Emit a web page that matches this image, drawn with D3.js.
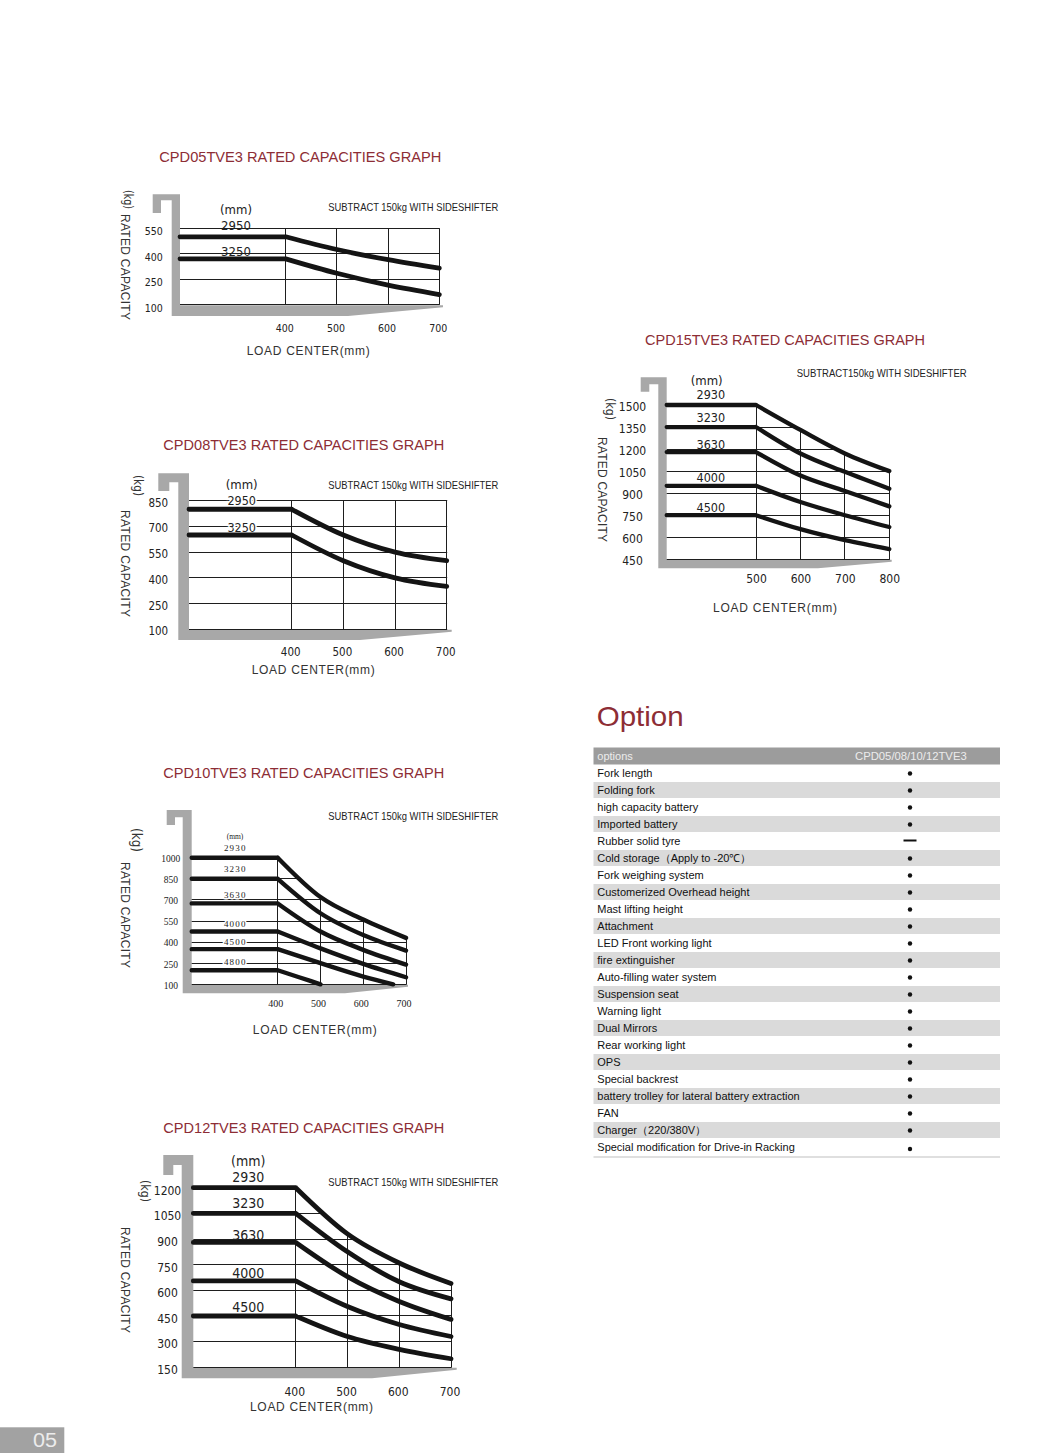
<!DOCTYPE html>
<html><head><meta charset="utf-8">
<script src="https://cdn.jsdelivr.net/npm/d3@7"></script>
<style>
html,body{margin:0;padding:0;background:#fff;}
svg{display:block;}
</style></head><body>
<script>
// ================= DATA =================
const chartTitles = ["CPD05TVE3 RATED CAPACITIES GRAPH","CPD08TVE3 RATED CAPACITIES GRAPH","CPD10TVE3 RATED CAPACITIES GRAPH","CPD12TVE3 RATED CAPACITIES GRAPH","CPD15TVE3 RATED CAPACITIES GRAPH"];
const noteText = "SUBTRACT 150kg WITH SIDESHIFTER";
const noteTextCompact = "SUBTRACT150kg WITH SIDESHIFTER";
const yAxisTitle = "RATED CAPACITY";
const yUnit = "(kg)";
const xAxisTitle = "LOAD CENTER(mm)";
const mastUnit = "(mm)";

// CPD05TVE3
const cpd05LoadTicks = [400,500,600,700];
const cpd05CapTicks = [100,250,400,550];
const cpd05Masts = ["2950","3250"];
const cpd05Curve2950 = [[400,500],[500,425],[600,365],[700,315]];
const cpd05Curve3250 = [[400,370],[500,285],[600,215],[700,160]];

// CPD08TVE3
const cpd08LoadTicks = [400,500,600,700];
const cpd08CapTicks = [100,250,400,550,700,850];
const cpd08Masts = ["2950","3250"];
const cpd08Curve2950 = [[400,800],[500,650],[600,550],[700,500]];
const cpd08Curve3250 = [[400,650],[500,500],[600,400],[700,350]];

// CPD10TVE3
const cpd10LoadTicks = [400,500,600,700];
const cpd10CapTicks = [100,250,400,550,700,850,1000];
const cpd10Masts = ["2930","3230","3630","4000","4500","4800"];
const cpd10Curve2930 = [[400,1000],[500,720],[600,560],[700,430]];
const cpd10Curve3230 = [[400,850],[500,605],[600,450],[700,340]];
const cpd10Curve3630 = [[400,675],[500,475],[600,345],[700,240]];
const cpd10Curve4000 = [[400,475],[500,355],[600,245],[700,150]];
const cpd10Curve4500 = [[400,350],[500,250],[600,155],[670,100]];
const cpd10Curve4800 = [[400,200],[450,150],[500,100]];

// CPD12TVE3
const cpd12LoadTicks = [400,500,600,700];
const cpd12CapTicks = [150,300,450,600,750,900,1050,1200];
const cpd12Masts = ["2930","3230","3630","4000","4500"];
const cpd12Curve2930 = [[400,1200],[500,930],[600,760],[700,640]];
const cpd12Curve3230 = [[400,1050],[500,825],[600,650],[700,550]];
const cpd12Curve3630 = [[400,880],[500,680],[600,535],[700,430]];
const cpd12Curve4000 = [[400,655],[500,505],[600,400],[700,330]];
const cpd12Curve4500 = [[400,450],[500,330],[600,255],[700,200]];

// CPD15TVE3
const cpd15LoadTicks = [500,600,700,800];
const cpd15CapTicks = [450,600,750,900,1050,1200,1350,1500];
const cpd15Masts = ["2930","3230","3630","4000","4500"];
const cpd15Curve2930 = [[500,1500],[600,1330],[700,1170],[800,1050]];
const cpd15Curve3230 = [[500,1350],[600,1170],[700,1045],[800,930]];
const cpd15Curve3630 = [[500,1180],[600,1020],[700,915],[800,810]];
const cpd15Curve4000 = [[500,950],[600,840],[700,750],[800,670]];
const cpd15Curve4500 = [[500,750],[600,655],[700,580],[800,520]];

// Option table
const optionTitle = "Option";
const optionHeader = ["options","CPD05/08/10/12TVE3"];
const optionNames = ["Fork length","Folding fork","high capacity battery","Imported battery","Rubber solid tyre","Cold storage\uFF08Apply to -20\u2103\uFF09","Fork weighing system","Customerized Overhead height","Mast lifting height","Attachment","LED Front working light","fire extinguisher","Auto-filling water system","Suspension seat","Warning light","Dual Mirrors","Rear working light","OPS","Special backrest","battery trolley for lateral battery extraction","FAN","Charger\uFF08220/380V\uFF09","Special modification for Drive-in Racking"];
const optionMarks = ["dot","dot","dot","dot","dash","dot","dot","dot","dot","dot","dot","dot","dot","dot","dot","dot","dot","dot","dot","dot","dot","dot","dot"];
const pageNumber = "05";

// ================= LAYOUT / STYLE =================
const SANS = "'Liberation Sans', Arial, sans-serif";
const NARROW = "'Liberation Sans Narrow','Arial Narrow','DejaVu Sans Condensed','Liberation Sans',sans-serif";
const SERIF = "'Liberation Serif','Times New Roman',serif";
const TITLE_RED = "#8d2d35";

const svg = d3.select("body").append("svg").attr("width",1060).attr("height",1453);
const defs = svg.append("defs");

const charts = [
 { id:"c05", title:chartTitles[0], loads:cpd05LoadTicks, caps:cpd05CapTicks, masts:cpd05Masts,
   series:[cpd05Curve2950,cpd05Curve3250],
   L:{gx:180, x0:285.7, x1:439.3, yb:304.7, yt:228.3, clip:false, sw:4.8, halo:false,
      frame:{bw:8.3,hx:19,top:194.3,topH:6,stubW:8.3,stubB:213,barB:316,right:443,taper:348},
      title:{x:159.3,y:161.5,w:282}, note:{x:328.3,y:211,w:170,text:noteText},
      ytick:{x:153.8,dy:3,size:10.5,font:NARROW}, xtick:{y:332,size:10.5,font:NARROW,dx:-1.5},
      xlab:{x:246.7,y:355,w:123}, ylab:{cx:125,y:214,w:106}, kg:{cx:128,y:190,w:19,size:12},
      mm:{x:236,y:214,size:13}, mast:{x:236,ys:[230,256],size:13,font:NARROW,ls:0}} },
 { id:"c08", title:chartTitles[1], loads:cpd08LoadTicks, caps:cpd08CapTicks, masts:cpd08Masts,
   series:[cpd08Curve2950,cpd08Curve3250],
   L:{gx:189, x0:291.7, x1:446.7, yb:629.3, yt:500.7, clip:false, sw:4.8, halo:true,
      frame:{bw:10.7,hx:20,top:473.3,topH:9,stubW:11,stubB:491,barB:640,right:451.7,taper:360},
      title:{x:163.3,y:450,w:281}, note:{x:328.3,y:489,w:170,text:noteText},
      ytick:{x:158.3,dy:1.8,size:11.5,font:NARROW}, xtick:{y:656,size:11.5,font:NARROW,dx:-1.5},
      xlab:{x:251.7,y:674,w:123}, ylab:{cx:125,y:510,w:107}, kg:{cx:138,y:475,w:21,size:12},
      mm:{x:241.7,y:489,size:13}, mast:{x:241.7,ys:[505,531.5],size:12.5,font:NARROW,ls:0}} },
 { id:"c10", title:chartTitles[2], loads:cpd10LoadTicks, caps:cpd10CapTicks, masts:cpd10Masts,
   series:[cpd10Curve2930,cpd10Curve3230,cpd10Curve3630,cpd10Curve4000,cpd10Curve4500,cpd10Curve4800],
   L:{gx:191.7, x0:277.7, x1:406, yb:984.3, yt:857.7, clip:true, sw:4.4, halo:true,
      frame:{bw:9,hx:16,top:810,topH:7.3,stubW:8.3,stubB:825,barB:993.3,right:408,taper:345},
      title:{x:163.3,y:778,w:281}, note:{x:328.3,y:820,w:170,text:noteText},
      ytick:{x:170.8,dy:0.8,size:9.5,font:SERIF}, xtick:{y:1007,size:10,font:SERIF,dx:-2.5},
      xlab:{x:252.7,y:1034,w:124}, ylab:{cx:125,y:862,w:106}, kg:{cx:137,y:828,w:24,size:13.5},
      mm:{x:235,y:838.5,size:7.5,font:SERIF}, mast:{x:235.3,ys:[851,872.3,897.7,926.7,945,965],size:9,font:SERIF,ls:1.2}} },
 { id:"c12", title:chartTitles[3], loads:cpd12LoadTicks, caps:cpd12CapTicks, masts:cpd12Masts,
   series:[cpd12Curve2930,cpd12Curve3230,cpd12Curve3630,cpd12Curve4000,cpd12Curve4500],
   L:{gx:193.3, x0:295.7, x1:451, yb:1367.3, yt:1187.7, clip:true, sw:4.8, halo:false,
      frame:{bw:11.6,hx:18.4,top:1155,topH:10,stubW:10,stubB:1175,barB:1378.3,right:456.7,taper:372},
      title:{x:163.3,y:1133,w:281}, note:{x:328.3,y:1185.5,w:170,text:noteText},
      ytick:{x:167.5,dy:2.5,size:12,font:NARROW}, xtick:{y:1396,size:12,font:NARROW,dx:-1.5},
      xlab:{x:250,y:1411,w:123}, ylab:{cx:125,y:1227,w:106}, kg:{cx:145,y:1180,w:22,size:12.5},
      mm:{x:248.3,y:1166,size:14}, mast:{x:248.3,ys:[1181.5,1208,1240,1278,1311.7],size:14,font:NARROW,ls:0}} },
 { id:"c15", title:chartTitles[4], loads:cpd15LoadTicks, caps:cpd15CapTicks, masts:cpd15Masts,
   series:[cpd15Curve2930,cpd15Curve3230,cpd15Curve3630,cpd15Curve4000,cpd15Curve4500],
   L:{gx:666.7, x0:756, x1:889.3, yb:559.3, yt:405, clip:true, sw:4.3, halo:false,
      frame:{bw:8.4,hx:17.6,top:377.3,topH:7,stubW:8.6,stubB:391.7,barB:568.3,right:891.7,taper:818},
      title:{x:645,y:344.5,w:280}, note:{x:796.7,y:376.5,w:170,text:noteTextCompact},
      ytick:{x:632.5,dy:1.7,size:12,font:NARROW}, xtick:{y:583,size:12,font:NARROW,dx:0},
      xlab:{x:713,y:612,w:124}, ylab:{cx:602,y:437,w:105}, kg:{cx:610,y:398,w:22,size:12.5},
      mm:{x:706.7,y:385,size:13}, mast:{x:710.8,ys:[399,421.7,449,482.3,512.3],size:12.5,font:NARROW,ls:0}} }
];

function crisp(v){ return Math.round(v - 0.5) + 0.5; }
const intFmt = d3.format("d");

function drawChart(C) {
  const L = C.L;
  const g = svg.append("g").attr("class", C.id);
  const xs = C.loads, ys = C.caps;
  const x = d3.scaleLinear().domain([0, xs[0], xs[xs.length-1]]).range([L.gx, L.x0, L.x1]);
  const y = d3.scaleLinear().domain([ys[0], ys[ys.length-1]]).range([L.yb, L.yt]);

  // title
  g.append("text").attr("x",L.title.x).attr("y",L.title.y).attr("textLength",L.title.w)
    .attr("lengthAdjust","spacingAndGlyphs")
    .attr("font-family",SANS).attr("font-size",14.5).attr("fill",TITLE_RED).text(C.title);

  // grey frame
  const f = L.frame, left = L.gx - f.bw, hl = left - f.hx, yb = y(ys[0]);
  const pts = [[hl,f.top],[L.gx,f.top],[L.gx,yb+0.5],[f.right,yb+0.5],[f.right,yb+2.5],[f.taper,f.barB],
               [left,f.barB],[left,f.top+f.topH],[hl+f.stubW,f.top+f.topH],[hl+f.stubW,f.stubB],[hl,f.stubB]];
  g.append("path").attr("d", d3.line()(pts)+"Z").attr("fill","#a8a8a8");

  // grid
  const grid = g.append("g").attr("stroke","#1e1e1e").attr("stroke-width",1).attr("fill","none");
  if (L.clip) {
    const cid = "clip-"+C.id;
    const cp = defs.append("clipPath").attr("id",cid);
    const top = C.series[0];
    cp.append("rect").attr("x",L.gx-2).attr("y",y(top[0][1])-1.5)
      .attr("width",x(top[0][0])-L.gx+3).attr("height",yb-y(top[0][1])+4);
    cp.append("path").attr("d", d3.area().x(d=>x(d[0])).y0(yb+2).y1(d=>y(d[1])-1.5).curve(d3.curveMonotoneX)(top));
    const last = top[top.length-1];
    cp.append("rect").attr("x",x(last[0])-1).attr("y",y(last[1])-1.5).attr("width",3).attr("height",yb-y(last[1])+4);
    grid.attr("clip-path",`url(#${cid})`);
  }
  grid.selectAll("line.h").data(ys).join("line").attr("class","h")
    .attr("x1",L.gx).attr("x2",x(xs[xs.length-1])+0.5)
    .attr("y1",d=>crisp(y(d))).attr("y2",d=>crisp(y(d)));
  grid.selectAll("line.v").data(xs).join("line").attr("class","v")
    .attr("x1",d=>crisp(x(d))).attr("x2",d=>crisp(x(d)))
    .attr("y1",crisp(y(ys[ys.length-1]))).attr("y2",crisp(yb));

  // y tick labels
  const ya = g.append("g").attr("transform",`translate(${L.ytick.x},${L.ytick.dy})`)
    .call(d3.axisLeft(y).tickValues(ys).tickFormat(intFmt).tickSize(0).tickPadding(0));
  ya.select(".domain").remove();
  ya.attr("font-family",L.ytick.font).attr("font-size",L.ytick.size).attr("text-anchor","middle");
  ya.selectAll("text").attr("fill","#222");

  // x tick labels
  const xa = g.append("g").attr("transform",`translate(${L.xtick.dx},${L.xtick.y})`)
    .call(d3.axisBottom(x).tickValues(xs).tickFormat(intFmt).tickSize(0).tickPadding(0));
  xa.select(".domain").remove();
  xa.attr("font-family",L.xtick.font).attr("font-size",L.xtick.size);
  xa.selectAll("text").attr("dy",0).attr("y",0).attr("fill","#222");

  // axis titles
  g.append("text").attr("x",L.xlab.x).attr("y",L.xlab.y).attr("textLength",L.xlab.w).attr("lengthAdjust","spacing")
    .attr("font-family",SANS).attr("font-size",12).attr("fill","#333").text(xAxisTitle);
  g.append("text").attr("transform",`translate(${L.ylab.cx},${L.ylab.y}) rotate(90)`).attr("dy","0.35em")
    .attr("textLength",L.ylab.w).attr("lengthAdjust","spacing")
    .attr("font-family",SANS).attr("font-size",12).attr("fill","#333").text(yAxisTitle);
  g.append("text").attr("transform",`translate(${L.kg.cx},${L.kg.y}) rotate(90)`).attr("dy","0.35em")
    .attr("textLength",L.kg.w).attr("lengthAdjust","spacingAndGlyphs")
    .attr("font-family",NARROW).attr("font-size",L.kg.size).attr("fill","#333").text(yUnit);

  // sideshifter note
  g.append("text").attr("x",L.note.x).attr("y",L.note.y).attr("textLength",L.note.w)
    .attr("lengthAdjust","spacingAndGlyphs").attr("font-family",SANS).attr("font-size",10.5)
    .attr("fill","#222").text(L.note.text);

  // mast labels
  g.append("text").attr("x",L.mm.x).attr("y",L.mm.y).attr("text-anchor","middle")
    .attr("font-family",L.mm.font||NARROW).attr("font-size",L.mm.size).attr("fill","#222").text(mastUnit);
  const ml = g.append("g").attr("font-family",L.mast.font).attr("font-size",L.mast.size).attr("fill","#222")
    .attr("text-anchor","middle").attr("letter-spacing",L.mast.ls);
  if (L.halo) ml.attr("stroke","#fff").attr("stroke-width",3).attr("paint-order","stroke");
  ml.selectAll("text").data(C.masts).join("text")
    .attr("x",L.mast.x).attr("y",(d,i)=>L.mast.ys[i]).text(d=>d);

  // capacity curves
  const curve = d3.line().x(d=>x(d[0])).y(d=>y(d[1])).curve(d3.curveMonotoneX);
  const flat = d3.line().x(d=>x(d[0])).y(d=>y(d[1]));
  g.append("g").attr("fill","none").attr("stroke","#141414").attr("stroke-width",L.sw)
    .attr("stroke-linecap","round").attr("stroke-linejoin","round")
    .selectAll("path").data(C.series).join("path")
    .attr("d", s => flat([[0,s[0][1]], s[0]]) + curve(s));
}

charts.forEach(drawChart);

// ================= OPTION TABLE =================
const T = {x:593.5, w:406.5, headY:747.5, headH:17, rowY0:764.5, rowH:17, textX:597.3, markX:910};
svg.append("text").attr("x",596.7).attr("y",725.5).attr("font-family",SANS).attr("font-size",28)
  .attr("textLength",87).attr("lengthAdjust","spacingAndGlyphs").attr("fill",TITLE_RED).text(optionTitle);

const tg = svg.append("g");
tg.append("rect").attr("x",T.x).attr("y",T.headY).attr("width",T.w).attr("height",T.headH).attr("fill","#9c9c9c");
tg.append("text").attr("x",T.textX).attr("y",T.headY+12).attr("font-family",SANS).attr("font-size",11)
  .attr("fill","#ececec").text(optionHeader[0]);
tg.append("text").attr("x",855).attr("y",T.headY+12).attr("font-family",SANS).attr("font-size",11)
  .attr("textLength",111.7).attr("lengthAdjust","spacingAndGlyphs").attr("fill","#ececec").text(optionHeader[1]);

const rowIdx = d3.range(optionNames.length);
const ry = d3.scaleLinear().domain([0,1]).range([T.rowY0, T.rowY0+T.rowH]);
tg.selectAll("rect.row").data(rowIdx.filter(i=>i%2===1)).join("rect").attr("class","row")
  .attr("x",T.x).attr("y",i=>ry(i)+0.5).attr("width",T.w).attr("height",T.rowH-1).attr("fill","#dadada");
tg.selectAll("text.opt").data(optionNames).join("text").attr("class","opt")
  .attr("x",T.textX).attr("y",(d,i)=>ry(i)+12).attr("font-family",SANS).attr("font-size",11)
  .attr("fill","#111").text(d=>d);
tg.selectAll("circle.mk").data(optionMarks.map((m,i)=>({m,i})).filter(d=>d.m==="dot")).join("circle").attr("class","mk")
  .attr("cx",T.markX).attr("cy",d=>ry(d.i)+9 + (d.i===optionNames.length-1?1.5:0)).attr("r",2.2).attr("fill","#111");
tg.selectAll("line.mk").data(optionMarks.map((m,i)=>({m,i})).filter(d=>d.m==="dash")).join("line").attr("class","mk")
  .attr("x1",T.markX-6.5).attr("x2",T.markX+6.5).attr("y1",d=>ry(d.i)+8).attr("y2",d=>ry(d.i)+8)
  .attr("stroke","#111").attr("stroke-width",2);
tg.append("line").attr("x1",T.x).attr("x2",T.x+T.w).attr("y1",ry(optionNames.length)+1.5).attr("y2",ry(optionNames.length)+1.5)
  .attr("stroke","#d4d4d4").attr("stroke-width",1.5);

// page number
svg.append("rect").attr("x",0).attr("y",1427.3).attr("width",64.3).attr("height",25.7).attr("fill","#a2a2a2");
svg.append("text").attr("x",33).attr("y",1446.7).attr("font-family",SANS).attr("font-size",20)
  .attr("textLength",24).attr("lengthAdjust","spacingAndGlyphs").attr("fill","#ececec").text(pageNumber);
</script>
</body></html>
